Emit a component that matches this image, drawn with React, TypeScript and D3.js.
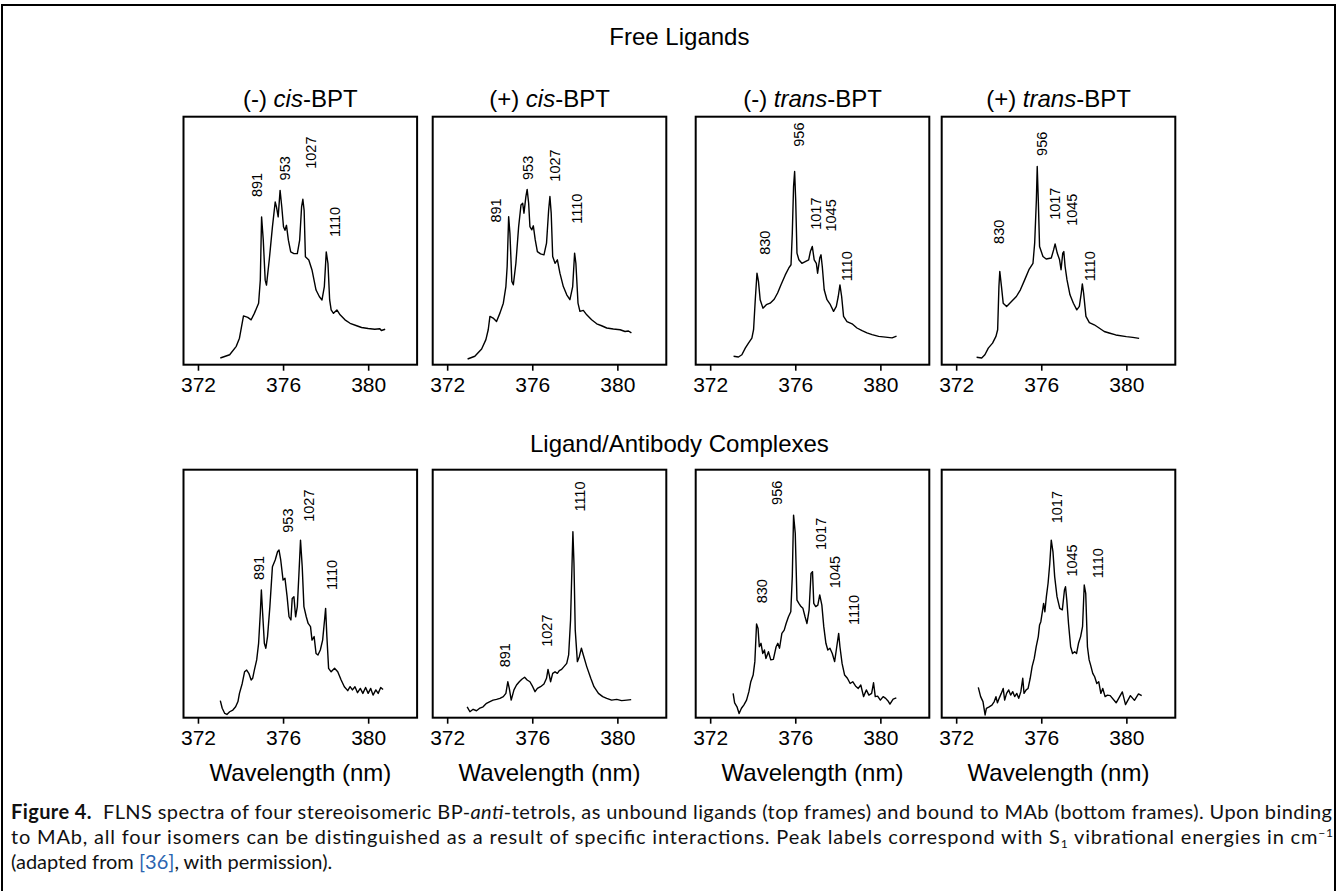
import React, { useRef, useEffect } from 'react';
import * as d3 from 'd3';

// wavelength ticks shared by every frame
const xTicks = [372, 376, 380];
const xDomain = [371.32, 382.3];

const rowTitles = ['Free Ligands', 'Ligand/Antibody Complexes'];

// title pieces: [text, italic]
const panelTitles = [
  [['(-) ', false], ['cis', true], ['-BPT', false]],
  [['(+) ', false], ['cis', true], ['-BPT', false]],
  [['(-) ', false], ['trans', true], ['-BPT', false]],
  [['(+) ', false], ['trans', true], ['-BPT', false]],
];

// spectra: [wavelength nm, relative intensity]
const minusCisFree = [
  [373.05, 2.7], [373.49, 4.0], [373.8, 7.4], [373.95, 10.7], [374.14, 19.7], [374.34, 19.1], [374.5, 18.1],
  [374.65, 20.7], [374.85, 24.8], [374.93, 34.1], [374.99, 59.6], [375.07, 50.2], [375.16, 34.1], [375.22, 32.1],
  [375.35, 42.2], [375.5, 55.6], [375.63, 65.6], [375.69, 63.6], [375.77, 59.6], [375.86, 70.3], [375.94, 63.6],
  [376.02, 55.6], [376.09, 54.2], [376.16, 56.2], [376.25, 50.2], [376.36, 45.5], [376.51, 44.8], [376.67, 44.8],
  [376.78, 50.2], [376.87, 63.6], [376.93, 66.7], [376.99, 62.2], [377.05, 43.5], [377.21, 42.2], [377.36, 38.2],
  [377.55, 30.1], [377.71, 27.4], [377.83, 26.1], [377.94, 31.5], [378.03, 45.5], [378.11, 40.8], [378.19, 26.1],
  [378.26, 22.1], [378.37, 20.7], [378.53, 22.1], [378.68, 20.1], [378.91, 18.1], [379.15, 16.7], [379.46, 15.7],
  [379.69, 15.0], [380.0, 14.6], [380.31, 14.3], [380.55, 14.5], [380.62, 13.8], [380.8, 14.3],
];
const plusCisFree = [
  [372.96, 2.3], [373.3, 3.4], [373.62, 6.3], [373.82, 10.1], [373.93, 14.1], [374.01, 19.5], [374.16, 18.8],
  [374.32, 17.4], [374.48, 20.8], [374.64, 24.8], [374.76, 31.5], [374.82, 39.6], [374.89, 59.7], [374.95, 53.0],
  [375.04, 33.6], [375.11, 32.2], [375.23, 40.9], [375.36, 55.7], [375.47, 64.4], [375.55, 65.1], [375.61, 61.1],
  [375.7, 67.8], [375.76, 70.7], [375.83, 65.1], [375.89, 55.7], [375.98, 54.4], [376.05, 56.0], [376.14, 50.3],
  [376.24, 45.6], [376.39, 44.7], [376.55, 44.3], [376.67, 49.0], [376.77, 62.4], [376.83, 67.8], [376.89, 61.1],
  [376.96, 43.6], [377.07, 40.9], [377.18, 42.3], [377.3, 36.9], [377.46, 31.5], [377.62, 28.2], [377.77, 26.2],
  [377.9, 31.5], [377.99, 45.0], [378.05, 40.9], [378.15, 24.8], [378.24, 21.5], [378.4, 21.9], [378.56, 20.1],
  [378.79, 18.1], [379.03, 16.5], [379.26, 15.7], [379.5, 14.8], [379.81, 14.4], [380.13, 14.1], [380.36, 13.4],
  [380.52, 13.6], [380.66, 12.8],
];
const minusTransFree = [
  [373.1, 3.4], [373.33, 3.1], [373.49, 4.0], [373.65, 6.7], [373.8, 8.7], [373.96, 10.7], [374.04, 14.1],
  [374.12, 26.2], [374.2, 36.9], [374.27, 33.6], [374.35, 26.2], [374.48, 22.8], [374.64, 24.2], [374.82, 24.8],
  [375.01, 26.4], [375.17, 28.9], [375.33, 32.2], [375.53, 36.2], [375.69, 38.9], [375.8, 40.3], [375.86, 53.0],
  [375.92, 71.8], [375.97, 77.9], [376.02, 66.4], [376.08, 45.0], [376.17, 42.3], [376.31, 40.9], [376.47, 41.6],
  [376.63, 42.3], [376.71, 45.6], [376.8, 47.7], [376.89, 42.3], [376.99, 40.9], [377.05, 36.9], [377.15, 43.0],
  [377.21, 44.3], [377.27, 39.6], [377.36, 30.2], [377.49, 26.2], [377.65, 24.2], [377.8, 21.5], [377.93, 23.5],
  [378.02, 27.5], [378.1, 32.2], [378.18, 27.5], [378.27, 19.5], [378.43, 17.4], [378.67, 16.5], [378.9, 14.8],
  [379.14, 13.7], [379.37, 12.8], [379.61, 12.1], [379.92, 11.4], [380.24, 11.1], [380.55, 10.8], [380.76, 11.5],
];
const plusTransFree = [
  [372.96, 3.0], [373.2, 2.7], [373.35, 4.0], [373.51, 6.7], [373.71, 8.7], [373.87, 11.4], [373.95, 14.1],
  [374.01, 31.5], [374.05, 37.6], [374.13, 31.5], [374.21, 24.8], [374.37, 23.5], [374.6, 25.5], [374.83, 27.5],
  [375.02, 30.2], [375.22, 34.2], [375.42, 38.3], [375.61, 40.9], [375.69, 49.0], [375.77, 66.4], [375.81, 79.9],
  [375.86, 66.4], [375.92, 47.7], [376.08, 43.6], [376.23, 42.6], [376.47, 43.0], [376.58, 46.3], [376.65, 48.7],
  [376.75, 45.0], [376.86, 42.3], [376.93, 38.3], [377.01, 45.0], [377.06, 45.6], [377.12, 39.6], [377.21, 34.2],
  [377.35, 28.2], [377.51, 24.8], [377.67, 22.1], [377.79, 23.5], [377.88, 28.9], [377.93, 32.6], [377.99, 28.9],
  [378.1, 19.5], [378.26, 17.0], [378.49, 16.1], [378.72, 14.8], [378.96, 13.4], [379.19, 12.8], [379.5, 12.0],
  [380.0, 11.3], [380.3, 11.0], [380.6, 10.6],
];
const minusCisBound = [
  [373.05, 6.9], [373.14, 3.8], [373.26, 1.7], [373.36, 1.3], [373.49, 2.4], [373.64, 3.1], [373.77, 4.4],
  [373.88, 6.5], [373.95, 9.8], [374.08, 13.8], [374.19, 18.5], [374.29, 19.2], [374.39, 17.9], [374.5, 15.2],
  [374.57, 15.9], [374.65, 19.2], [374.76, 23.3], [374.85, 30.0], [374.93, 42.1], [374.98, 51.5], [375.04, 42.1],
  [375.12, 30.0], [375.19, 28.0], [375.27, 32.7], [375.38, 44.8], [375.5, 60.9], [375.63, 63.6], [375.74, 66.9],
  [375.81, 67.6], [375.89, 63.6], [376.0, 55.5], [376.09, 56.2], [376.19, 48.8], [376.28, 40.7], [376.37, 39.4],
  [376.43, 48.1], [376.51, 48.8], [376.59, 40.7], [376.67, 44.8], [376.74, 56.9], [376.82, 71.6], [376.9, 60.9],
  [376.98, 44.8], [377.09, 40.7], [377.18, 38.0], [377.29, 36.7], [377.36, 31.3], [377.46, 32.7], [377.55, 25.9],
  [377.64, 25.3], [377.75, 27.3], [377.86, 31.3], [377.95, 39.4], [378.0, 44.1], [378.06, 32.7], [378.14, 19.9],
  [378.26, 18.5], [378.42, 19.9], [378.57, 18.5], [378.73, 15.2], [378.88, 12.5], [379.04, 10.9], [379.15, 12.5],
  [379.26, 11.2], [379.38, 12.5], [379.5, 10.1], [379.63, 11.8], [379.75, 9.8], [379.88, 12.2], [380.0, 9.8],
  [380.12, 11.8], [380.23, 9.1], [380.36, 11.2], [380.47, 9.8], [380.59, 12.2], [380.7, 11.4],
];
const plusCisBound = [
  [372.94, 4.4], [373.07, 2.4], [373.22, 3.4], [373.38, 2.8], [373.54, 3.9], [373.69, 4.4], [373.85, 5.8],
  [374.01, 6.5], [374.16, 7.1], [374.32, 7.4], [374.48, 7.8], [374.64, 8.5], [374.76, 9.8], [374.85, 14.5],
  [374.92, 11.8], [375.01, 7.1], [375.14, 11.2], [375.26, 13.2], [375.39, 14.5], [375.51, 15.5], [375.64, 16.3],
  [375.76, 15.2], [375.89, 14.5], [376.02, 12.5], [376.13, 10.5], [376.24, 11.8], [376.39, 12.5], [376.55, 13.6],
  [376.67, 15.9], [376.74, 19.5], [376.8, 17.2], [376.86, 14.5], [376.96, 17.9], [377.07, 18.5], [377.18, 17.9],
  [377.27, 19.0], [377.38, 19.5], [377.49, 20.6], [377.62, 21.9], [377.71, 25.3], [377.8, 39.4], [377.87, 62.2],
  [377.91, 75.0], [377.96, 62.2], [378.02, 35.3], [378.12, 22.6], [378.21, 24.6], [378.31, 28.0], [378.4, 25.3],
  [378.56, 20.6], [378.75, 15.9], [378.9, 12.5], [379.11, 9.8], [379.31, 8.5], [379.5, 7.8], [379.73, 7.1],
  [379.97, 7.4], [380.2, 6.9], [380.44, 7.1], [380.65, 7.3],
];
const minusTransBound = [
  [373.08, 9.8], [373.15, 6.0], [373.26, 4.4], [373.36, 1.7], [373.47, 3.8], [373.58, 5.1], [373.71, 7.1],
  [373.82, 10.5], [373.91, 14.5], [374.02, 17.2], [374.1, 22.6], [374.18, 37.8], [374.25, 36.0], [374.31, 28.6],
  [374.39, 30.0], [374.47, 25.9], [374.55, 27.3], [374.62, 23.9], [374.74, 26.6], [374.85, 23.3], [374.97, 23.5],
  [375.1, 28.6], [375.18, 30.0], [375.26, 28.0], [375.37, 34.0], [375.48, 35.3], [375.57, 38.0], [375.68, 40.7],
  [375.79, 42.7], [375.86, 56.9], [375.92, 81.7], [376.0, 74.3], [376.08, 47.4], [376.17, 46.1], [376.27, 44.8],
  [376.36, 44.1], [376.46, 40.7], [376.55, 38.0], [376.65, 43.4], [376.74, 58.2], [376.81, 58.9], [376.87, 46.1],
  [376.96, 44.8], [377.06, 45.4], [377.15, 49.5], [377.25, 45.4], [377.34, 36.7], [377.44, 30.0], [377.53, 27.3],
  [377.63, 28.0], [377.74, 25.9], [377.85, 22.6], [377.94, 28.0], [378.04, 34.0], [378.1, 28.6], [378.2, 21.9],
  [378.32, 17.2], [378.45, 15.9], [378.58, 13.8], [378.7, 14.5], [378.83, 12.8], [378.96, 11.8], [379.08, 13.2],
  [379.21, 8.5], [379.34, 11.2], [379.46, 9.1], [379.59, 9.8], [379.68, 14.1], [379.76, 8.5], [379.87, 8.7],
  [380.0, 7.1], [380.13, 8.5], [380.25, 7.8], [380.38, 6.5], [380.45, 5.5], [380.6, 7.5], [380.75, 8.0],
];
const plusTransBound = [
  [373.04, 12.2], [373.15, 8.5], [373.26, 6.5], [373.36, 1.1], [373.42, 3.8], [373.55, 4.4], [373.68, 5.1],
  [373.79, 6.5], [373.87, 8.5], [373.94, 6.0], [374.02, 7.8], [374.12, 9.8], [374.21, 11.8], [374.28, 7.1],
  [374.37, 9.8], [374.47, 11.2], [374.56, 9.1], [374.66, 10.5], [374.75, 8.5], [374.85, 9.8], [374.94, 7.8],
  [375.04, 10.5], [375.13, 15.9], [375.19, 9.8], [375.29, 11.2], [375.38, 11.8], [375.48, 15.9], [375.57, 20.6],
  [375.67, 23.9], [375.76, 28.6], [375.86, 32.7], [375.92, 37.4], [375.98, 38.7], [376.05, 42.7], [376.11, 46.1],
  [376.17, 42.7], [376.24, 48.8], [376.32, 54.2], [376.4, 62.2], [376.47, 71.6], [376.55, 66.9], [376.63, 56.9],
  [376.74, 48.8], [376.87, 44.1], [376.99, 43.5], [377.09, 51.5], [377.14, 52.8], [377.2, 47.4], [377.28, 38.0],
  [377.38, 28.6], [377.47, 25.9], [377.57, 26.6], [377.66, 25.9], [377.75, 30.0], [377.85, 32.7], [377.94, 36.7],
  [378.02, 53.5], [378.09, 50.1], [378.17, 28.6], [378.25, 23.3], [378.32, 21.2], [378.42, 17.9], [378.51, 16.5],
  [378.61, 13.8], [378.7, 14.5], [378.8, 9.8], [378.89, 11.8], [379.0, 8.5], [379.11, 9.1], [379.24, 8.9],
  [379.52, 6.0], [379.81, 10.4], [379.96, 5.3], [380.19, 8.9], [380.38, 7.0], [380.57, 9.6], [380.72, 8.9],
];

// peak labels: [label, wavelength, intensity where the text starts]
const minusCisFreePeaks = [['891', 374.76, 67.6], ['953', 376.09, 74.3], ['1027', 377.29, 79.0], ['1110', 378.45, 51.5]];
const plusCisFreePeaks = [['891', 374.29, 57.3], ['953', 375.81, 74.5], ['1027', 377.07, 73.8], ['1110', 378.09, 56.8]];
const minusTransFreePeaks = [['830', 374.56, 44.3], ['956', 376.16, 87.9], ['1017', 376.94, 54.4], ['1045', 377.68, 53.7], ['1110', 378.43, 33.6]];
const plusTransFreePeaks = [['830', 374.02, 48.7], ['956', 376.0, 84.2], ['1017', 376.62, 58.4], ['1045', 377.45, 56.0], ['1110', 378.29, 33.6]];
const minusCisBoundPeaks = [['891', 374.88, 55.5], ['953', 376.2, 74.6], ['1027', 377.21, 79.0], ['1110', 378.29, 51.5]];
const plusCisBoundPeaks = [['891', 374.71, 20.3], ['1027', 376.67, 28.6], ['1110', 378.24, 83.1]];
const minusTransBoundPeaks = [['830', 374.42, 46.1], ['956', 375.13, 85.8], ['1017', 377.22, 67.6], ['1045', 377.85, 52.2], ['1110', 378.77, 37.4]];
const plusTransBoundPeaks = [['1017', 376.71, 78.4], ['1045', 377.42, 56.9], ['1110', 378.64, 56.2]];

const panels = [
  { row: 0, col: 0, data: minusCisFree, peaks: minusCisFreePeaks },
  { row: 0, col: 1, data: plusCisFree, peaks: plusCisFreePeaks },
  { row: 0, col: 2, data: minusTransFree, peaks: minusTransFreePeaks },
  { row: 0, col: 3, data: plusTransFree, peaks: plusTransFreePeaks },
  { row: 1, col: 0, data: minusCisBound, peaks: minusCisBoundPeaks },
  { row: 1, col: 1, data: plusCisBound, peaks: plusCisBoundPeaks },
  { row: 1, col: 2, data: minusTransBound, peaks: minusTransBoundPeaks },
  { row: 1, col: 3, data: plusTransBound, peaks: plusTransBoundPeaks },
];

const FONT = '"Liberation Sans", Arial, Helvetica, sans-serif';

const App = () => {
  const svgRef = useRef(null);

  useEffect(() => {
    document.body.style.margin = '0';
    const width = 1337;
    const height = 891;
    const svg = d3.select(svgRef.current);
    svg.selectAll('*').remove();
    svg.attr('width', width).attr('height', height).style('display', 'block');

    svg.append('rect').attr('width', width).attr('height', height).attr('fill', '#fff');
    // outer frame
    svg.append('rect')
      .attr('x', 2).attr('y', 5).attr('width', width - 4).attr('height', height + 10)
      .attr('fill', 'none').attr('stroke', '#000').attr('stroke-width', 2);

    const colX = [183.5, 432.7, 695.7, 941.7];
    const rowY = [116.7, 469.7];
    const pw = 233.6;
    const ph = 248;
    const midX = (colX[0] + colX[3] + pw) / 2;

    // row headings
    [45, 452].forEach((yy, i) => {
      svg.append('text').attr('x', midX).attr('y', yy)
        .attr('text-anchor', 'middle').style('font', `24px ${FONT}`).text(rowTitles[i]);
    });

    panels.forEach(p => {
      const x0 = colX[p.col];
      const y0 = rowY[p.row];
      const x = d3.scaleLinear().domain(xDomain).range([x0, x0 + pw]);
      const y = d3.scaleLinear().domain([0, 100]).range([y0 + ph, y0]);

      const g = svg.append('g');

      // spectrum
      g.append('path')
        .datum(p.data)
        .attr('fill', 'none')
        .attr('stroke', '#000')
        .attr('stroke-width', 1.4)
        .attr('stroke-linejoin', 'round')
        .attr('d', d3.line().x(d => x(d[0])).y(d => y(d[1])));

      // frame
      g.append('rect')
        .attr('x', x0).attr('y', y0).attr('width', pw).attr('height', ph)
        .attr('fill', 'none').attr('stroke', '#000').attr('stroke-width', 2);

      // bottom axis
      const ax = g.append('g')
        .attr('transform', `translate(0,${y0 + ph})`)
        .call(d3.axisBottom(x).tickValues(xTicks).tickSize(6).tickPadding(6));
      ax.select('.domain').remove();
      ax.selectAll('line').attr('stroke-width', 1.6);
      ax.selectAll('text').style('font', `21px ${FONT}`).attr('fill', '#000');

      // peak labels
      p.peaks.forEach(([lab, wl, v]) => {
        g.append('text')
          .attr('transform', `translate(${x(wl)},${y(v)}) rotate(-90)`)
          .attr('dy', '0.36em')
          .style('font', `14.5px ${FONT}`)
          .text(lab);
      });

      if (p.row === 0) {
        const t = svg.append('text').attr('x', x0 + pw / 2).attr('y', y0 - 10)
          .attr('text-anchor', 'middle').style('font', `24px ${FONT}`);
        panelTitles[p.col].forEach(([s, it]) => {
          t.append('tspan').style('font-style', it ? 'italic' : 'normal').text(s);
        });
      } else {
        svg.append('text').attr('x', x0 + pw / 2).attr('y', y0 + ph + 63)
          .attr('text-anchor', 'middle').style('font', `24px ${FONT}`).text('Wavelength (nm)');
      }
    });

    // caption
    const CAP = 'Lato, "Open Sans", sans-serif';
    const l1 = svg.append('text').attr('x', 11).attr('y', 819)
      .attr('textLength', 1321).attr('lengthAdjust', 'spacing')
      .style('font', `20px ${CAP}`).attr('fill', '#111');
    l1.append('tspan').style('font-weight', 'bold').text('Figure 4.');
    l1.append('tspan').text('\u00a0 FLNS spectra of four stereoisomeric BP-');
    l1.append('tspan').style('font-style', 'italic').text('anti');
    l1.append('tspan').text('-tetrols, as unbound ligands (top frames) and bound to MAb (bottom frames). Upon binding');

    const l2 = svg.append('text').attr('x', 11).attr('y', 844)
      .attr('textLength', 1322).attr('lengthAdjust', 'spacing')
      .style('font', `20px ${CAP}`).attr('fill', '#111');
    l2.append('tspan').text('to MAb, all four isomers can be distinguished as a result of specific interactions. Peak labels correspond with S');
    l2.append('tspan').attr('dy', 4).style('font-size', '12px').text('1');
    l2.append('tspan').attr('dy', -4).text(' vibrational energies in cm');
    l2.append('tspan').attr('dy', -7).style('font-size', '12px').text('\u22121');

    const l3 = svg.append('text').attr('x', 11).attr('y', 869)
      .style('font', `20px ${CAP}`).attr('fill', '#111');
    l3.append('tspan').text('(adapted from ');
    l3.append('tspan').attr('fill', '#2a64b0').text('[36]');
    l3.append('tspan').text(', with permission).');
  }, []);

  return <svg ref={svgRef}></svg>;
};

export default App;
